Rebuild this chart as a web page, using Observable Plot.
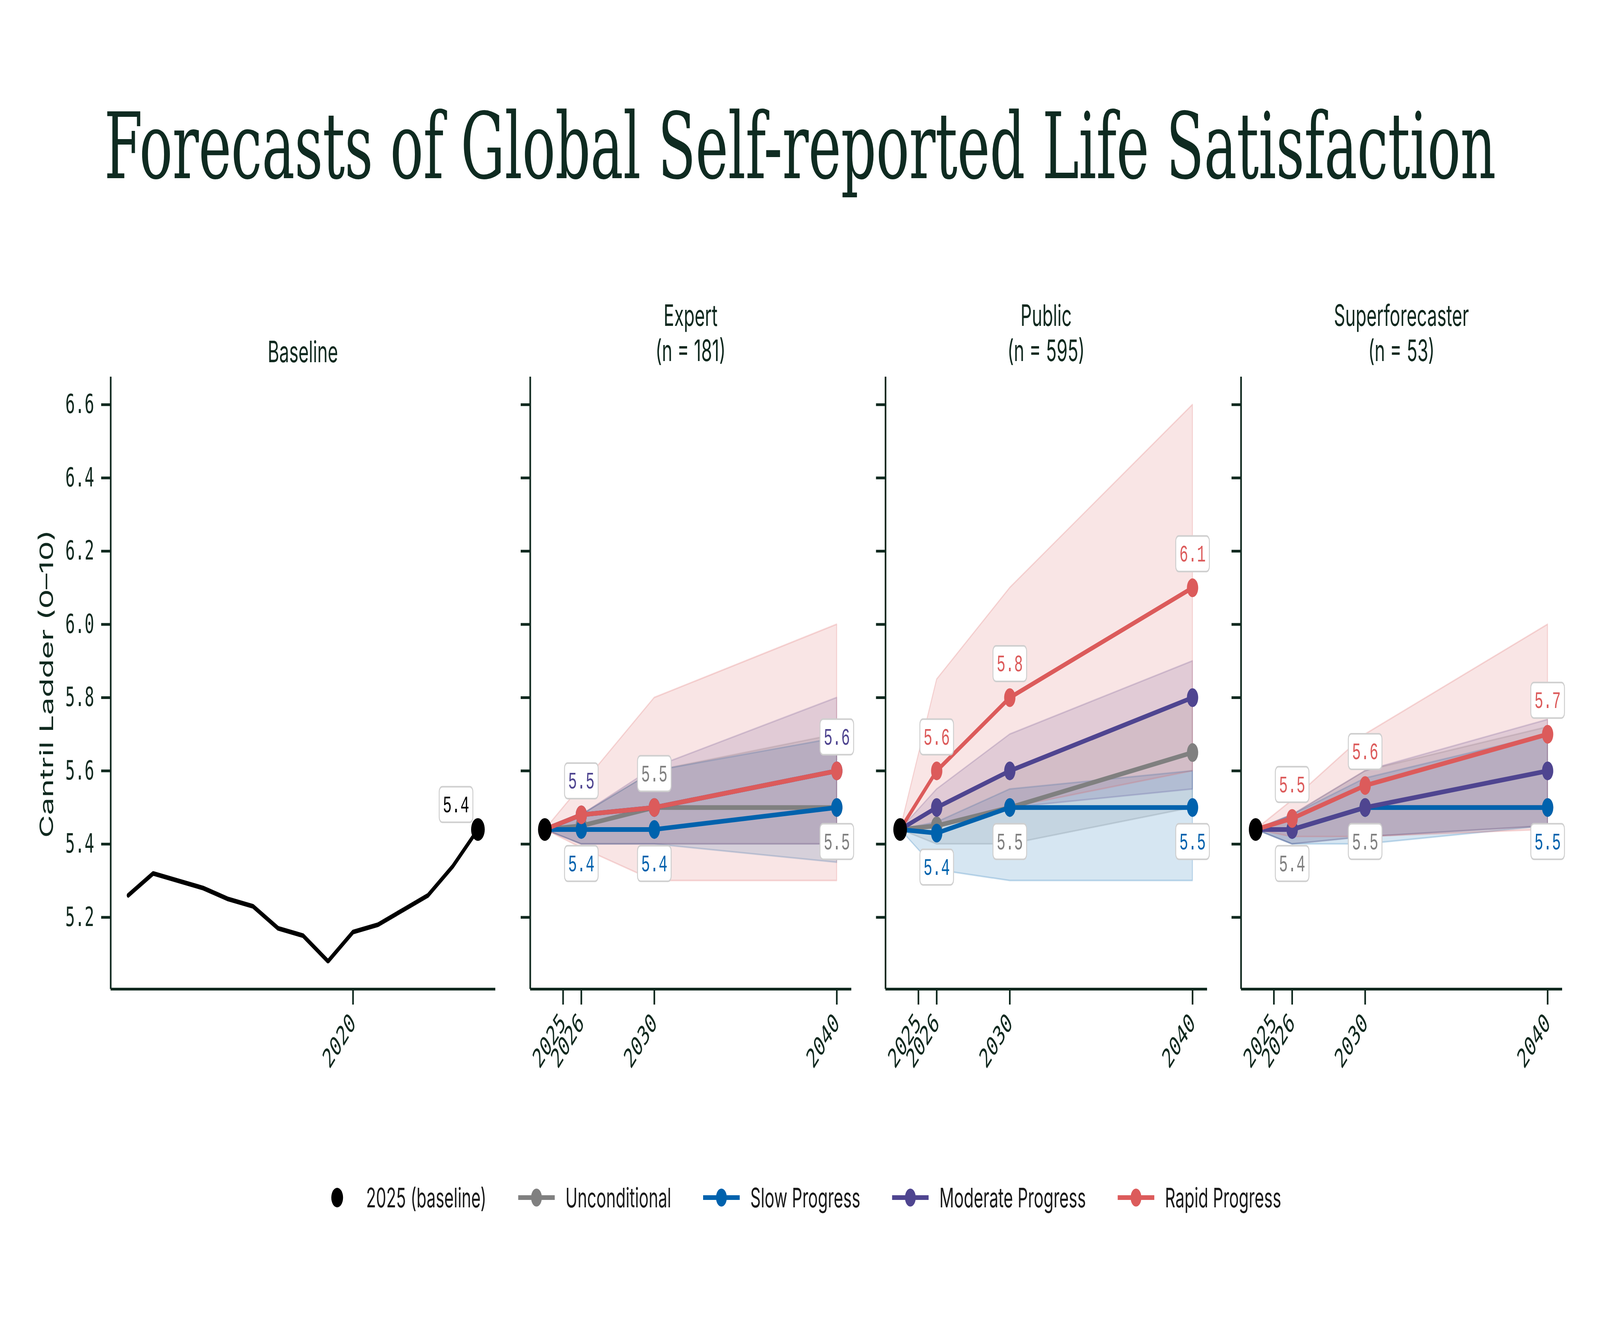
<!DOCTYPE html>
<html>
<head>
<meta charset="utf-8">
<script src="https://cdn.jsdelivr.net/npm/d3@7"></script>
<script src="https://cdn.jsdelivr.net/npm/@observablehq/plot@0.6"></script>
<style>
  html, body { margin: 0; padding: 0; background: #ffffff; overflow: hidden; }
  #wrap { position: relative; overflow: hidden; background: #ffffff; }
  #root { position: absolute; left: 0; top: 0; width: 6800px; height: 3386px; overflow: hidden; background: #ffffff; transform-origin: 0 0; }
  .abs { position: absolute; }
  .title { font-family: "DejaVu Serif", serif; font-size: 235px; line-height: 235px; letter-spacing: -1px; color: #0f2b21; white-space: nowrap; text-align: center; }
  .ptitle { font-family: Inter, "Noto Sans", sans-serif; font-size: 75px; line-height: 90px; color: #10291f; text-align: center; white-space: nowrap; }
  .ylab { font-family: Inter, "Noto Sans", sans-serif; font-size: 80px; color: #10291f; white-space: nowrap; transform: translate(-50%, -50%) rotate(-90deg); }
  .legend { display: flex; align-items: center; justify-content: center; gap: 135px; font-family: Inter, "Noto Sans", sans-serif; font-size: 69px; color: #1a1a1a; }
  .legend .item { display: flex; align-items: center; gap: 45px; }
  svg.plot { overflow: visible; }
</style>
</head>
<body>
<div id="wrap"><div id="root"></div></div>
<script>
// ---------------- data ----------------
const seriesNames = ["Unconditional", "Slow Progress", "Moderate Progress", "Rapid Progress"];
const seriesColors = ["#808080", "#0062ad", "#4f4590", "#dc5b5b"];

const baselineYears  = [2011, 2012, 2013, 2014, 2015, 2016, 2017, 2018, 2019, 2020, 2021, 2022, 2023, 2024, 2025];
const baselineValues = [5.26, 5.32, 5.30, 5.28, 5.25, 5.23, 5.17, 5.15, 5.08, 5.16, 5.18, 5.22, 5.26, 5.34, 5.44];

const forecastYears = [2025, 2026, 2030, 2040];
const panelNames  = ["Expert", "Public", "Superforecaster"];
const panelCounts = [181, 595, 53];

// rows: Unconditional, Slow, Moderate, Rapid ; columns: forecastYears
const expertMedian = [[5.44, 5.45, 5.50, 5.50], [5.44, 5.44, 5.44, 5.50], [5.44, 5.48, 5.50, 5.60], [5.44, 5.48, 5.50, 5.60]];
const expertLow    = [[5.44, 5.40, 5.40, 5.40], [5.44, 5.40, 5.40, 5.35], [5.44, 5.40, 5.40, 5.40], [5.44, 5.39, 5.30, 5.30]];
const expertHigh   = [[5.44, 5.48, 5.60, 5.70], [5.44, 5.48, 5.60, 5.69], [5.44, 5.48, 5.61, 5.80], [5.44, 5.56, 5.80, 6.00]];

const publicMedian = [[5.44, 5.45, 5.50, 5.65], [5.44, 5.43, 5.50, 5.50], [5.44, 5.50, 5.60, 5.80], [5.44, 5.60, 5.80, 6.10]];
const publicLow    = [[5.44, 5.40, 5.40, 5.50], [5.44, 5.33, 5.30, 5.30], [5.44, 5.45, 5.50, 5.55], [5.44, 5.45, 5.50, 5.60]];
const publicHigh   = [[5.44, 5.50, 5.60, 5.80], [5.44, 5.46, 5.55, 5.60], [5.44, 5.55, 5.70, 5.90], [5.44, 5.85, 6.10, 6.60]];

const superMedian = [[5.44, 5.44, 5.50, 5.50], [5.44, 5.44, 5.50, 5.50], [5.44, 5.44, 5.50, 5.60], [5.44, 5.47, 5.56, 5.70]];
const superLow    = [[5.44, 5.40, 5.42, 5.45], [5.44, 5.40, 5.40, 5.45], [5.44, 5.40, 5.42, 5.45], [5.44, 5.42, 5.42, 5.44]];
const superHigh   = [[5.44, 5.48, 5.60, 5.72], [5.44, 5.48, 5.58, 5.70], [5.44, 5.48, 5.60, 5.74], [5.44, 5.52, 5.70, 6.00]];

// labelled points: [year, series, side]
const expertLabels = [[2026, "Moderate Progress", "above"], [2026, "Slow Progress", "below"],
                      [2030, "Unconditional", "above"], [2030, "Slow Progress", "below"],
                      [2040, "Moderate Progress", "above"], [2040, "Unconditional", "below"]];
const publicLabels = [[2026, "Rapid Progress", "above"], [2026, "Slow Progress", "below"],
                      [2030, "Rapid Progress", "above"], [2030, "Unconditional", "below"],
                      [2040, "Rapid Progress", "above"], [2040, "Slow Progress", "below"]];
const superLabels  = [[2026, "Rapid Progress", "above"], [2026, "Unconditional", "below"],
                      [2030, "Rapid Progress", "above"], [2030, "Unconditional", "below"],
                      [2040, "Rapid Progress", "above"], [2040, "Slow Progress", "below"]];

const yTicks = [5.2, 5.4, 5.6, 5.8, 6.0, 6.2, 6.4, 6.6];
const yDomain = [5.004, 6.676];
const baselineXTicks = [2020];
const baselineXDomain = [2010.3, 2025.7];
const forecastXTicks = [2025, 2026, 2030, 2040];
// the 2025 baseline column is drawn one year to the left of its label, as in the original
const forecastXDomain = [2023.2, 2040.8];

// ---------------- drawing ----------------
const INK = "#10291f";
const MONO = "'DejaVu Sans Mono', 'Liberation Mono', monospace";
const LABELFONT = "'Liberation Mono', 'DejaVu Sans Mono', monospace";
const wrap = document.getElementById("wrap");
const root = document.getElementById("root");
function fit() {
  const w = window.innerWidth || 6800, h = window.innerHeight || 3386;
  wrap.style.width = w + "px";
  wrap.style.height = h + "px";
  root.style.transform = `scale(${w / 6800}, ${h / 3386})`;
}
fit();
window.addEventListener("resize", fit);

const SVG_TOP = 930, MT = 34, PLOT_H = 1567, MB = 290;
const H = MT + PLOT_H + MB;

const labelBox = {
  draw(ctx) {
    const w = 143, h = 91, r = 13;
    const x0 = -w / 2, y0 = -h / 2, x1 = w / 2, y1 = h / 2;
    ctx.moveTo(x0 + r, y0);
    ctx.lineTo(x1 - r, y0); ctx.arcTo(x1, y0, x1, y0 + r, r);
    ctx.lineTo(x1, y1 - r); ctx.arcTo(x1, y1, x1 - r, y1, r);
    ctx.lineTo(x0 + r, y1); ctx.arcTo(x0, y1, x0, y1 - r, r);
    ctx.lineTo(x0, y0 + r); ctx.arcTo(x0, y0, x0 + r, y0, r);
    ctx.closePath();
  }
};

function axesMarks(xDomain, xTicks, showYLabels) {
  return [
    Plot.axisX({ticks: xTicks, tickFormat: "d", tickSize: 40, tickPadding: 35, tickRotate: -45, strokeWidth: 7, label: null}),
    Plot.axisY({ticks: yTicks, tickFormat: showYLabels ? ".1f" : () => "", tickSize: 40, tickPadding: 30, strokeWidth: 7, label: null}),
    Plot.ruleY([yDomain[0]], {stroke: INK, strokeWidth: 7}),
    Plot.ruleX([xDomain[0]], {stroke: INK, strokeWidth: 7})
  ];
}

function makePlot(left, marginLeft, plotW, xScale, xTicks, showYLabels, marks) {
  const p = Plot.plot({
    width: marginLeft + plotW + 40,
    height: H,
    marginTop: MT, marginBottom: MB, marginLeft, marginRight: 40,
    style: {background: "transparent", overflow: "visible", fontFamily: MONO, fontSize: "68px", color: INK},
    x: xScale,
    y: {domain: yDomain},
    color: {type: "identity"},
    marks: [...axesMarks(xScale.domain, xTicks, showYLabels), ...marks]
  });
  p.style.position = "absolute";
  p.style.left = left + "px";
  p.style.top = SVG_TOP + "px";
  p.style.maxWidth = "none";
  root.appendChild(p);
}

function labelMarks(rows, dx, dy) {
  return [
    Plot.dot(rows, {x: "year", y: "value", symbol: labelBox, r: 5, fill: "white", stroke: "#cfcfcf", strokeWidth: 4, dx, dy}),
    Plot.text(rows, {x: "year", y: "value", text: d => d.value.toFixed(1), fill: "color", dx, dy,
      fontFamily: LABELFONT, fontSize: 62, textAnchor: "middle", lineAnchor: "middle"})
  ];
}

// Baseline panel
{
  const rows = baselineYears.map((year, i) => ({year, value: baselineValues[i]}));
  const last = rows[rows.length - 1];
  makePlot(0, 470, 1635, {domain: baselineXDomain}, baselineXTicks, true, [
    Plot.line(rows, {x: "year", y: "value", stroke: "#000", strokeWidth: 12, strokeLinejoin: "miter"}),
    Plot.dot([last], {x: "year", y: "value", r: 29, fill: "#000"}),
    ...labelMarks([{...last, color: "#000"}], -93, -64)
  ]);
}

// Forecast panels
const panelMedian = [expertMedian, publicMedian, superMedian];
const panelLow = [expertLow, publicLow, superLow];
const panelHigh = [expertHigh, publicHigh, superHigh];
const panelLabels = [expertLabels, publicLabels, superLabels];
const panelLefts = [[2145, 108, 1365], [3658, 105, 1367], [5170, 104, 1365]];
const forecastXScale = {domain: forecastXDomain, transform: d => (d === forecastYears[0] ? d - 1 : d)};

panelNames.forEach((name, p) => {
  const marks = [];
  const bySeries = seriesNames.map((s, si) => forecastYears.map((year, j) => ({
    series: s, color: seriesColors[si], year,
    median: panelMedian[p][si][j], low: panelLow[p][si][j], high: panelHigh[p][si][j]
  })));
  bySeries.forEach((rows, si) => {
    marks.push(Plot.areaY(rows, {x: "year", y1: "low", y2: "high", fill: seriesColors[si], fillOpacity: 0.16,
      stroke: seriesColors[si], strokeOpacity: 0.22, strokeWidth: 4}));
  });
  bySeries.forEach((rows, si) => {
    marks.push(Plot.line(rows, {x: "year", y: "median", stroke: seriesColors[si], strokeWidth: 12}));
    marks.push(Plot.dot(rows.filter(d => d.year !== forecastYears[0]), {x: "year", y: "median", r: 24, fill: seriesColors[si]}));
  });
  marks.push(Plot.dot([{year: forecastYears[0], value: baselineValues[baselineValues.length - 1]}], {x: "year", y: "value", r: 29, fill: "#000"}));
  const lab = panelLabels[p].map(([year, s, side]) => {
    const si = seriesNames.indexOf(s);
    const j = forecastYears.indexOf(year);
    return {year, value: panelMedian[p][si][j], color: seriesColors[si], side};
  });
  marks.push(...labelMarks(lab.filter(d => d.side === "above"), 0, -87));
  marks.push(...labelMarks(lab.filter(d => d.side === "below"), 0, 87));
  const [left, ml, pw] = panelLefts[p];
  makePlot(left, ml, pw, forecastXScale, forecastXTicks, false, marks);
});

// ---------------- text: title, panel titles, y label, legend ----------------
function addDiv(cls, html, css) {
  const d = document.createElement("div");
  d.className = "abs " + cls;
  d.innerHTML = html;
  Object.assign(d.style, css);
  root.appendChild(d);
  return d;
}
addDiv("title", "Forecasts of Global Self-reported Life Satisfaction", {left: "0px", width: "6800px", top: "257px"});

const panelTitleCenters = [1287, 2935, 4446, 5956];
addDiv("ptitle", "Baseline", {left: (panelTitleCenters[0] - 600) + "px", width: "1200px", top: "855px"});
panelNames.forEach((n, i) => {
  addDiv("ptitle", `${n}<br>(n = ${panelCounts[i]})`, {left: (panelTitleCenters[i + 1] - 600) + "px", width: "1200px", top: "762px"});
});
addDiv("ylab", "Cantril Ladder (0–10)", {left: "196px", top: "1750px"});

const legend = addDiv("legend", "", {left: "0px", width: "6800px", top: "3015px", height: "100px"});
const legendItems = [{name: "2025 (baseline)", color: "#000", line: false}]
  .concat(seriesNames.map((s, i) => ({name: s, color: seriesColors[i], line: true})));
legendItems.forEach(it => {
  const item = document.createElement("div");
  item.className = "item";
  const sw = d3.create("svg").attr("width", 156).attr("height", 60);
  if (it.line) sw.append("line").attr("x1", 0).attr("x2", 156).attr("y1", 30).attr("y2", 30).attr("stroke", it.color).attr("stroke-width", 12);
  sw.append("circle").attr("cx", 78).attr("cy", 30).attr("r", it.line ? 23 : 25).attr("fill", it.color);
  item.appendChild(sw.node());
  const t = document.createElement("span");
  t.textContent = it.name;
  item.appendChild(t);
  legend.appendChild(item);
});
</script>
</body>
</html>
